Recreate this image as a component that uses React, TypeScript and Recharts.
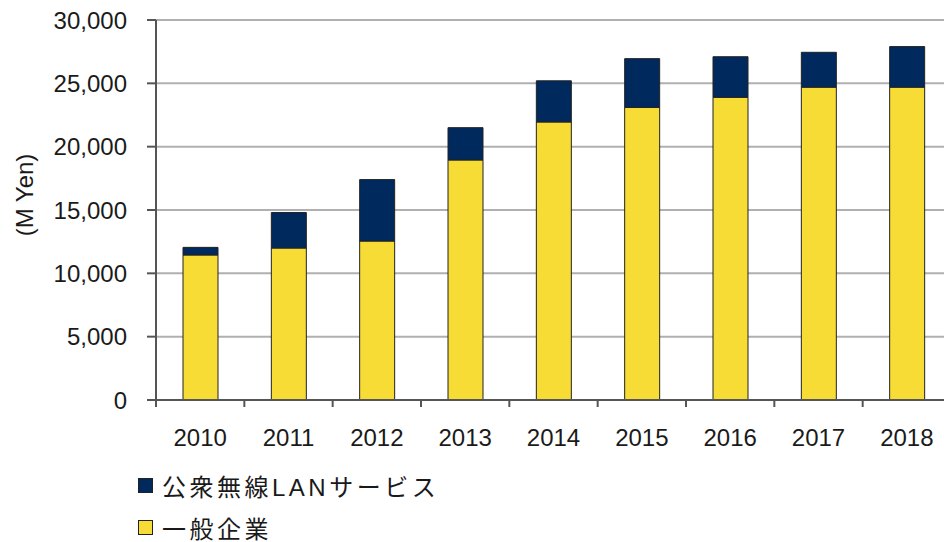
import { Bar, BarChart, CartesianGrid, XAxis, YAxis, Legend, Label } from "recharts"

const years = ["2010", "2011", "2012", "2013", "2014", "2015", "2016", "2017", "2018"];
// 一般企業 (M Yen)
const generalCompanies = [11450, 12000, 12550, 18950, 21950, 23100, 23900, 24700, 24700];
// 公衆無線LANサービス (M Yen), stacked on top
const publicWlan = [600, 2800, 4850, 2550, 3250, 3850, 3200, 2750, 3200];
const yTicks = [0, 5000, 10000, 15000, 20000, 25000, 30000];

const legendItems = [
  { name: "公衆無線LANサービス", color: "#00295e" },
  { name: "一般企業", color: "#f7dc35" },
];

const data = years.map((year, i) => ({
  year,
  general: generalCompanies[i],
  wlan: publicWlan[i],
}));

const font = "'Liberation Sans', Arial, 'Noto Sans CJK JP', sans-serif";
const LABEL_GAP = 29;

function YLabel({ viewBox }: any) {
  const x = viewBox.x + 24;
  const y = viewBox.y + 175;
  return (
    <text x={x} y={y} transform={`rotate(-90, ${x}, ${y})`} textAnchor="middle" dominantBaseline="central"
      fontSize={24} fill="#1a1a1a" fontFamily={font}>
      (M Yen)
    </text>
  );
}

// category label plus a tick mark on the left edge of each category band
function YearTick({ x, y, payload }: any) {
  const edge = x - (payload.offset || 0);
  const axisY = y - LABEL_GAP;
  return (
    <g>
      <line x1={edge} x2={edge} y1={axisY} y2={axisY + 7} stroke="#555" strokeWidth={2} />
      <text x={x} y={y} dy={17} textAnchor="middle" fontSize={24} fill="#1a1a1a" fontFamily={font}>
        {payload.value}
      </text>
    </g>
  );
}

function LegendBox() {
  return (
    <div style={{ fontFamily: font, fontSize: 24, color: "#1a1a1a", letterSpacing: 3.5 }}>
      {legendItems.map((item) => (
        <div key={item.name} style={{ display: "flex", alignItems: "center", height: 42 }}>
          <span style={{ width: 13, height: 13, background: item.color, border: "1px solid #222", marginRight: 9 }} />
          <span>{item.name}</span>
        </div>
      ))}
    </div>
  );
}

export default function App() {
  return (
    <div style={{ position: "fixed", left: 0, top: 0, width: 944, height: 542, overflow: "hidden", background: "#fff" }}>
      <BarChart width={960} height={542} data={data} margin={{ top: 20, right: 9, left: 0, bottom: 92 }}>
        <CartesianGrid vertical={false} stroke="#b0b0b0" strokeWidth={2} />
        <XAxis dataKey="year" height={50} tickLine={false} tickSize={0} tickMargin={LABEL_GAP}
          axisLine={{ stroke: "#555", strokeWidth: 2 }} tick={<YearTick />} />
        <YAxis width={156} domain={[0, 30000]} ticks={yTicks} tickSize={9} tickMargin={20}
          tickFormatter={(v) => v.toLocaleString("en-US")}
          axisLine={{ stroke: "#555", strokeWidth: 2 }} tickLine={{ stroke: "#555", strokeWidth: 2 }}
          tick={{ fontSize: 24, fill: "#1a1a1a", fontFamily: font }}>
          <Label content={YLabel} />
        </YAxis>
        <Legend verticalAlign="middle" align="center" layout="horizontal" content={LegendBox}
          wrapperStyle={{ top: 464, left: 138, width: "auto" }} />
        <Bar dataKey="general" name="一般企業" stackId="a" fill="#f7dc35" stroke="#222" strokeWidth={1}
          barSize={35} isAnimationActive={false} />
        <Bar dataKey="wlan" name="公衆無線LANサービス" stackId="a" fill="#00295e" stroke="#222" strokeWidth={1}
          barSize={35} isAnimationActive={false} />
      </BarChart>
    </div>
  )
}
